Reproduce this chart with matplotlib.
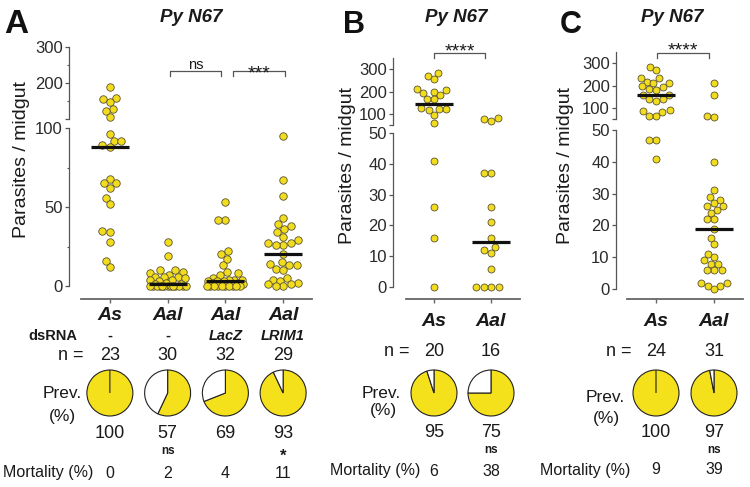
import numpy as np
import matplotlib
matplotlib.use('Agg')
import matplotlib.pyplot as plt

plt.rcParams['font.family'] = ['Liberation Sans', 'DejaVu Sans']

W, H = 750, 487

YELLOW = '#f2dc1e'
PIE_YELLOW = '#f4e01b'
EDGE = '#5a5230'
AXC = '#555555'
TXT = '#1a1a1a'

# ---------------- data ----------------
# Panel A
a_cats = ['As', 'Aal', 'Aal', 'Aal']
a_dsrna = ['-', '-', 'LacZ', 'LRIM1']
a_n = [23, 30, 32, 29]
a_prev = [100, 57, 69, 93]
a_prev_sig = ['', 'ns', '', '*']
a_mort = [0, 2, 4, 11]
a_as = [189, 158, 156, 147, 128, 122, 105, 96, 92, 92, 89, 88, 68, 65, 65, 62,
        56, 52, 35, 34, 28, 16, 12]
a_aal = [28, 19, 10, 10, 9, 8, 7, 6, 6, 6, 5, 4, 4, 3, 2, 1, 1,
         0, 0, 0, 0, 0, 0, 0, 0, 0, 0, 0, 0, 0]
a_lacz = [53, 42, 42, 22, 20, 17, 13, 9, 8, 7, 5, 4, 4, 4, 3, 3, 3, 2, 2, 1, 1, 1,
          0, 0, 0, 0, 0, 0, 0, 0, 0, 0]
a_lrim1 = [95, 67, 57, 43, 39, 38, 36, 34, 31, 29, 27, 27, 26, 26, 20, 15, 14, 13,
           13, 11, 10, 5, 4, 3, 2, 1, 1, 0, 0]

# Panel B
b_cats = ['As', 'Aal']
b_n = [20, 16]
b_prev = [95, 75]
b_prev_sig = ['', 'ns']
b_mort = [6, 38]
b_as = [281, 269, 254, 210, 207, 199, 192, 184, 165, 165, 125, 122, 121, 118, 96,
        59, 41, 26, 16, 0]
b_aal = [84, 76, 69, 37, 37, 26, 21, 16, 13, 12, 11, 6, 0, 0, 0, 0]

# Panel C
c_cats = ['As', 'Aal']
c_n = [24, 31]
c_prev = [100, 97]
c_prev_sig = ['', 'ns']
c_mort = [9, 39]
c_as = [283, 269, 235, 232, 217, 212, 210, 199, 195, 184, 180, 158, 158, 139, 139,
        131, 91, 87, 84, 64, 64, 47, 47, 41]
c_aal = [210, 158, 66, 61, 40, 31, 29, 28, 27, 26, 26, 25, 24, 22, 22, 19, 16, 14,
         11, 10, 9, 8, 8, 6, 6, 6, 2, 2, 1, 1, 0]

title = 'Py N67'
ylabel = 'Parasites / midgut'

# ---------------- helpers ----------------
fig = plt.figure(figsize=(W / 100, H / 100), dpi=100)


def px_axes(x0, y0, x1, y1):
    return fig.add_axes([x0 / W, 1 - y1 / H, (x1 - x0) / W, (y1 - y0) / H])


def txt(x, y, s, **kw):
    kw.setdefault('ha', 'center')
    kw.setdefault('va', 'center')
    kw.setdefault('color', TXT)
    return fig.text(x / W, 1 - y / H, s, **kw)


def fline(xs, ys, **kw):
    fig.add_artist(plt.Line2D([x / W for x in xs], [1 - y / H for y in ys],
                              transform=fig.transFigure, **kw))


def swarm(ypix, d, maxw):
    ypix = np.asarray(ypix, float)
    order = np.argsort(ypix, kind='stable')
    cand = np.arange(-maxw, maxw + 0.01, 0.5)
    cand = cand[np.lexsort((cand, np.abs(cand)))]
    xs = np.zeros(len(ypix))
    placed = []
    for idx in order:
        y = ypix[idx]
        best, best_ov = 0.0, 1e9
        for c in cand:
            ov = 0.0
            for (px, py) in placed:
                dy = py - y
                if abs(dy) >= d:
                    continue
                dist = np.hypot(px - c, dy)
                if dist < d:
                    ov = max(ov, d - dist)
            if ov < 1e-6:
                best = c
                break
            if ov < best_ov - 1e-6:
                best_ov, best = ov, c
        xs[idx] = best
        placed.append((best, y))
    return xs


def pie_at(cx, cy, pct, r=23):
    pad = 2
    ax = px_axes(cx - r - pad, cy - r - pad, cx + r + pad, cy + r + pad)
    ax.pie([pct, 100 - pct], colors=[PIE_YELLOW, 'white'], startangle=90,
           counterclock=False, radius=1,
           wedgeprops=dict(edgecolor='#222222', linewidth=0.8))
    lim = (r + pad) / r
    ax.set_xlim(-lim, lim)
    ax.set_ylim(-lim, lim)
    ax.set_aspect('equal')
    ax.axis('off')


def make_panel(p):
    x0, x1 = p['x0'], p['x1']
    ncat = len(p['groups'])
    ppc = (x1 - x0) / ncat
    ax_lo = px_axes(x0, p['lo'][0], x1, p['lo'][1])
    ax_hi = px_axes(x0, p['hi'][0], x1, p['hi'][1])
    for ax in (ax_lo, ax_hi):
        ax.set_xlim(-0.5, ncat - 0.5)
        ax.patch.set_visible(False)
        for s in ('top', 'right'):
            ax.spines[s].set_visible(False)
        ax.spines['left'].set_position(('outward', (x0 - p['spine']) * 0.72))
        ax.spines['left'].set_color(AXC)
        ax.spines['left'].set_linewidth(0.9)
        ax.tick_params(axis='y', which='major', length=3.0, width=0.9, color=AXC,
                       pad=1.5, labelsize=12, labelcolor='#2a2a2a')
        ax.tick_params(axis='y', which='minor', length=1.8, width=0.8, color=AXC)
    ax_lo.set_ylim(*p['lo_lim'])
    ax_hi.set_ylim(*p['hi_lim'])
    ax_lo.set_yticks(p['lo_major'])
    ax_lo.set_yticks(p['lo_minor'], minor=True)
    ax_hi.set_yticks(p['hi_major'])
    ax_hi.set_yticklabels(p['hi_labels'])
    ax_hi.set_yticks(p['hi_minor'], minor=True)
    ax_hi.spines['bottom'].set_visible(False)
    ax_hi.set_xticks([])
    ax_lo.spines['bottom'].set_position(('outward', (p['xaxis'] - p['lo'][1]) * 0.72))
    ax_lo.spines['bottom'].set_color('#666666')
    ax_lo.spines['bottom'].set_linewidth(1.3)
    ax_lo.set_xticks(range(ncat))
    ax_lo.set_xticklabels([])
    ax_lo.tick_params(axis='x', length=3.0, width=1.0, color='#666666')

    brk = p['brk']
    for i, vals in enumerate(p['groups']):
        vals = np.asarray(vals, float)
        ypix = np.array([(ax_hi if v > brk else ax_lo).transData.transform((i, v))[1]
                         for v in vals])
        dx = swarm(ypix, p['d'], p['maxw'])
        xd = i + dx / ppc
        hi = vals > brk
        for ax, m in ((ax_hi, hi), (ax_lo, ~hi)):
            if m.any():
                ax.scatter(xd[m], vals[m], s=p['ms'], color=YELLOW, edgecolors=EDGE,
                           linewidths=0.6, zorder=3, clip_on=False)
        med = np.median(vals)
        axm = ax_hi if med > brk else ax_lo
        axm.plot([i - 0.33, i + 0.33], [med, med], color='#111111', lw=2.3,
                 solid_capstyle='butt', zorder=4, clip_on=False)
    return [x0 + (i + 0.5) * ppc for i in range(ncat)]


panels = [
    dict(x0=81, x1=312, spine=69, lo=(128, 286), lo_lim=(0, 100), hi=(47, 119),
         hi_lim=(100, 300), xaxis=299, lo_major=[0, 50, 100], lo_minor=[25, 75],
         hi_major=[100, 200, 300], hi_labels=['', '200', '300'], hi_minor=[150, 250],
         brk=100, groups=[a_as, a_aal, a_lacz, a_lrim1], ms=29, d=7.3, maxw=18),
    dict(x0=405.5, x1=519.5, spine=393, lo=(133, 287), lo_lim=(0, 50),
         hi=(57.75, 125.25), hi_lim=(50, 350), xaxis=299,
         lo_major=[0, 10, 20, 30, 40, 50], lo_minor=[],
         hi_major=[50, 100, 200, 300], hi_labels=['', '100', '200', '300'], hi_minor=[],
         brk=50, groups=[b_as, b_aal], ms=25, d=7.2, maxw=17),
    dict(x0=627, x1=743, spine=616, lo=(130, 289), lo_lim=(0, 50),
         hi=(51.75, 119.25), hi_lim=(50, 350), xaxis=299,
         lo_major=[0, 10, 20, 30, 40, 50], lo_minor=[],
         hi_major=[50, 100, 200, 300], hi_labels=['', '100', '200', '300'], hi_minor=[],
         brk=50, groups=[c_as, c_aal], ms=25, d=7.2, maxw=17),
]

cx_a = make_panel(panels[0])
cx_b = make_panel(panels[1])
cx_c = make_panel(panels[2])

BI = dict(fontweight='bold', fontstyle='italic')

# ---------------- Panel A text ----------------
txt(4, 33, 'A', fontsize=24, fontweight='bold', ha='left', va='baseline', color='#111111')
txt(191, 17, title, fontsize=13.5, **BI)
txt(21.5, 160, ylabel, fontsize=14, rotation=90)
for x, c in zip(cx_a, a_cats):
    txt(x, 315, c, fontsize=14, **BI)
txt(77, 336, 'dsRNA', fontsize=10.5, fontweight='bold', ha='right')
for x, s in zip(cx_a, a_dsrna):
    if s == '-':
        txt(x, 336, s, fontsize=10.5, fontweight='bold')
    else:
        txt(x, 336, s, fontsize=10.5, **BI)
txt(83, 356, 'n =', fontsize=13, ha='right')
for x, n in zip(cx_a, a_n):
    txt(x, 356, str(n), fontsize=13)
for x, pv in zip(cx_a, a_prev):
    pie_at(x, 393, pv)
txt(62, 394, 'Prev.', fontsize=12.5)
txt(62, 416, '(%)', fontsize=12.5)
for x, pv, sg in zip(cx_a, a_prev, a_prev_sig):
    txt(x, 433, str(pv), fontsize=13)
    if sg == 'ns':
        txt(x, 451, sg, fontsize=8.5, fontweight='bold')
    elif sg:
        txt(x, 456, sg, fontsize=12, fontweight='bold')
txt(3, 473, 'Mortality (%)', fontsize=11.5, ha='left')
for x, m in zip(cx_a, a_mort):
    txt(x, 473, str(m), fontsize=11.5)
# brackets A
fline([170, 170, 221, 221], [76, 71, 71, 76], color=AXC, lw=0.9)
txt(196, 69, 'ns', fontsize=10.5, va='baseline')
fline([233, 233, 285, 285], [76, 71, 71, 76], color=AXC, lw=0.9)
txt(259, 78, '***', fontsize=14, va='baseline')

# ---------------- Panel B text ----------------
txt(343, 33, 'B', fontsize=22, fontweight='bold', ha='left', va='baseline', color='#111111')
txt(456, 18, title, fontsize=13.5, **BI)
txt(348, 166, ylabel, fontsize=14, rotation=90)
for x, c in zip(cx_b, b_cats):
    txt(x, 321, c, fontsize=14, **BI)
txt(410, 351, 'n =', fontsize=13, ha='right')
for x, n in zip(cx_b, b_n):
    txt(x, 351, str(n), fontsize=13)
for x, pv in zip(cx_b, b_prev):
    pie_at(x, 393, pv)
txt(381, 393, 'Prev.', fontsize=12.5)
txt(383, 411, '(%)', fontsize=12.5)
for x, pv, sg in zip(cx_b, b_prev, b_prev_sig):
    txt(x, 432.5, str(pv), fontsize=13)
    if sg:
        txt(x, 450, sg, fontsize=8.5, fontweight='bold')
txt(330, 471, 'Mortality (%)', fontsize=11.5, ha='left')
for x, m in zip(cx_b, b_mort):
    txt(x, 471, str(m), fontsize=11.5)
fline([434, 434, 485, 485], [58, 53, 53, 58], color=AXC, lw=0.9)
txt(460, 56.5, '****', fontsize=14, va='baseline')

# ---------------- Panel C text ----------------
txt(560, 33, 'C', fontsize=22, fontweight='bold', ha='left', va='baseline', color='#111111')
txt(672, 18, title, fontsize=13.5, **BI)
txt(566, 166, ylabel, fontsize=14, rotation=90)
for x, c in zip(cx_c, c_cats):
    txt(x, 321, c, fontsize=14, **BI)
txt(632, 351, 'n =', fontsize=13, ha='right')
for x, n in zip(cx_c, c_n):
    txt(x, 351, str(n), fontsize=13)
for x, pv in zip(cx_c, c_prev):
    pie_at(x, 393, pv)
txt(605.5, 397.5, 'Prev.', fontsize=12.5)
txt(606, 418, '(%)', fontsize=12.5)
for x, pv, sg in zip(cx_c, c_prev, c_prev_sig):
    txt(x, 432.5, str(pv), fontsize=13)
    if sg:
        txt(x, 450, sg, fontsize=8.5, fontweight='bold')
txt(540, 470, 'Mortality (%)', fontsize=11.5, ha='left')
for x, m in zip(cx_c, c_mort):
    txt(x, 470, str(m), fontsize=11.5)
fline([657, 657, 709, 709], [58, 53, 53, 58], color=AXC, lw=0.9)
txt(683, 55.5, '****', fontsize=14, va='baseline')

fig.savefig('out.png', dpi=100)
